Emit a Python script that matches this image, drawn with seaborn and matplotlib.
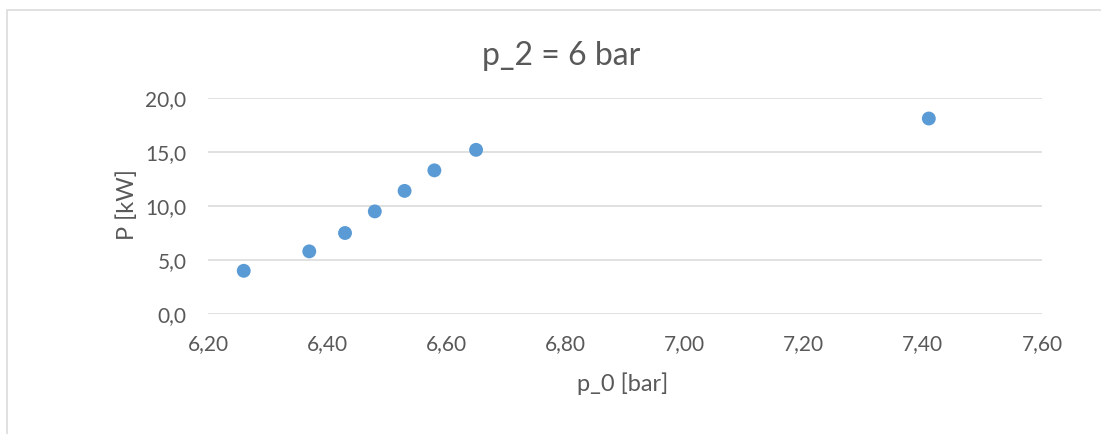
import matplotlib
matplotlib.use("Agg")
import matplotlib.pyplot as plt
import matplotlib.ticker as mticker
from matplotlib.patches import Rectangle
import seaborn as sns
import pandas as pd

# Measured operating points at p_2 = 6 bar
p0_bar = [6.26, 6.37, 6.43, 6.48, 6.53, 6.58, 6.65, 7.41]
power_kw = [4.0, 5.8, 7.5, 9.5, 11.4, 13.3, 15.2, 18.1]

x_ticks = [6.20, 6.40, 6.60, 6.80, 7.00, 7.20, 7.40, 7.60]
y_ticks = [0.0, 5.0, 10.0, 15.0, 20.0]

title = "p_2 = 6 bar"
x_label = "p_0 [bar]"
y_label = "P [kW]"

sns.set_theme(style="white")
plt.rcParams["font.family"] = ["Lato", "DejaVu Sans"]

TEXT = "#595959"
GRID = "#D9D9D9"
BLUE = "#5B9BD5"

W, H = 1101, 434
L, R, B, T = 208, 1042, 314, 98  # plot area in pixels

df = pd.DataFrame({"p0": p0_bar, "P": power_kw})

fig = plt.figure(figsize=(W / 100, H / 100), dpi=100)
ax = fig.add_axes([L / W, 1 - B / H, (R - L) / W, (B - T) / H])

# thin chart-area frame
fig.patches.append(Rectangle((7 / W, -0.05), 1.2, 1 - 10 / H + 0.05,
                             transform=fig.transFigure, fill=False,
                             edgecolor="#D9D9D9", linewidth=1.1))

sns.scatterplot(data=df, x="p0", y="P", ax=ax, color=BLUE, s=100,
                edgecolor="none", zorder=3)

ax.set_xlim(x_ticks[0], x_ticks[-1])
ax.set_ylim(y_ticks[0], y_ticks[-1])
ax.set_xticks(x_ticks)
ax.set_yticks(y_ticks)
ax.xaxis.set_major_formatter(mticker.FuncFormatter(lambda v, _: f"{v:.2f}".replace(".", ",")))
ax.yaxis.set_major_formatter(mticker.FuncFormatter(lambda v, _: f"{v:.1f}".replace(".", ",")))

ax.grid(axis="y", color=GRID, linewidth=1.1)
ax.grid(axis="x", visible=False)
for s in ax.spines.values():
    s.set_visible(False)
ax.tick_params(axis="both", length=0, labelsize=15, colors=TEXT)
ax.tick_params(axis="x", pad=14.5)
ax.tick_params(axis="y", pad=15.5)

ax.set_xlabel(x_label, fontsize=17, color=TEXT)
ax.set_ylabel(y_label, fontsize=17, color=TEXT)
ax.xaxis.label.set_va("center")
ax.yaxis.label.set_va("center")
ax.xaxis.set_label_coords((623 - L) / (R - L), (B - 384) / (B - T))
ax.yaxis.set_label_coords((127 - L) / (R - L), (B - 205) / (B - T))

fig.text(561 / W, 1 - 56 / H, title, fontsize=23, color=TEXT,
         ha="center", va="center")

fig.savefig("out.png", dpi=100, facecolor="white")
